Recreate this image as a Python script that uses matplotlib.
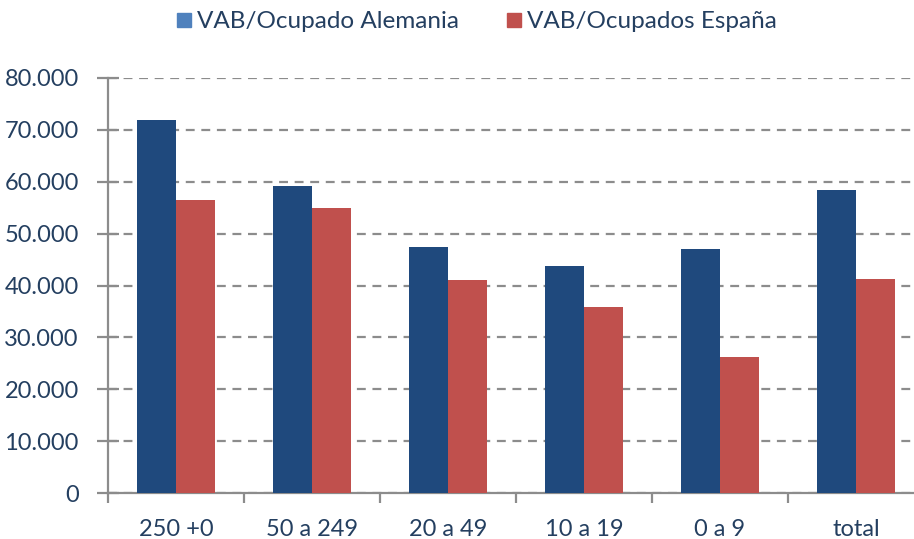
import numpy as np
import matplotlib.pyplot as plt
from matplotlib.patches import Patch

# values
categories = ["250 +0", "50 a 249", "20 a 49", "10 a 19", "0 a 9", "total"]
alemania = [71900, 59200, 47400, 43800, 47000, 58400]
espana = [56500, 54900, 41100, 35900, 26200, 41300]
yticks = [0, 10000, 20000, 30000, 40000, 50000, 60000, 70000, 80000]

BLUE = "#1F497D"
RED = "#C0504D"
TEXT = "#243F60"
GRID = "#8C8C8C"

plt.rcParams["font.family"] = ["Lato", "DejaVu Sans"]

fig = plt.figure(figsize=(9.14, 5.39), dpi=100)
# right edge runs a bit past the image, as in the cropped original
ax = fig.add_axes([108 / 914, 46 / 539, 816 / 914, 415 / 539])

x = np.arange(len(categories))
w = 0.285
ax.bar(x - w / 2, alemania, w, color=BLUE, zorder=3)
ax.bar(x + w / 2, espana, w, color=RED, zorder=3)

ax.set_xlim(-0.5, len(categories) - 0.5)
ax.set_ylim(0, 80000)
ax.set_yticks(yticks)
ax.set_yticklabels([f"{v:,}".replace(",", ".") for v in yticks])
ax.yaxis.grid(True, linestyle=(0, (4, 3)), color=GRID, linewidth=1.6, zorder=0)

# category labels between boundary ticks
ax.set_xticks(x)
ax.set_xticklabels(categories)
ax.tick_params(axis="x", length=0, pad=19, labelsize=17, labelcolor=TEXT)
ax.set_xticks(np.arange(len(categories) + 1) - 0.5, minor=True)
ax.tick_params(axis="x", which="minor", length=7, width=1.6, color=GRID, direction="out")
ax.tick_params(axis="y", length=16, width=1.6, color=GRID, direction="inout",
               labelsize=17, labelcolor=TEXT, pad=13)

for side in ["top", "right"]:
    ax.spines[side].set_visible(False)
for side in ["left", "bottom"]:
    ax.spines[side].set_color(GRID)
    ax.spines[side].set_linewidth(1.6)

handles = [Patch(color="#4F81BD", label="VAB/Ocupado Alemania"),
           Patch(color=RED, label="VAB/Ocupados España")]
fig.legend(handles=handles, loc="center", bbox_to_anchor=(477 / 914, 1 - 22 / 539),
           ncol=2, frameon=False, fontsize=17.5, handlelength=0.55, handleheight=0.55,
           handletextpad=0.25, columnspacing=2.0, labelcolor=TEXT)

fig.savefig("out.png", dpi=100)
